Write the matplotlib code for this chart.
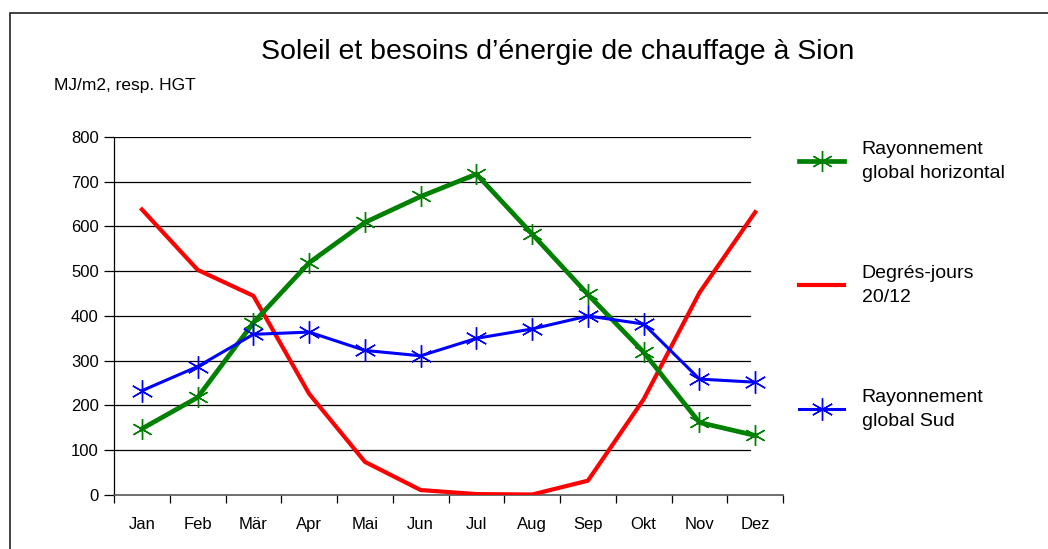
import matplotlib.pyplot as plt
from matplotlib.lines import Line2D
from matplotlib.patches import Rectangle

months = ["Jan", "Feb", "Mär", "Apr", "Mai", "Jun", "Jul", "Aug", "Sep", "Okt", "Nov", "Dez"]
horizontal = [148, 218, 385, 519, 609, 667, 717, 583, 448, 319, 162, 133]
degres_jours = [638, 503, 445, 226, 74, 11, 2, 1, 32, 214, 452, 632]
sud = [233, 287, 359, 364, 323, 311, 350, 371, 400, 382, 259, 252]
labels = ["Rayonnement\nglobal horizontal", "Degrés-jours\n20/12", "Rayonnement\nglobal Sud"]

plt.rcParams['font.family'] = ['Liberation Sans', 'DejaVu Sans']

fig = plt.figure(figsize=(10.48, 5.49), dpi=100)
ax = fig.add_axes([0.1088, 0.0984, 0.6384, 0.6521])

star = (6, 2, 0)
x = list(range(len(months)))
ax.plot(x, horizontal, color="#008000", lw=3.4, marker=star, ms=15, mew=1.0, zorder=4)
ax.plot(x, degres_jours, color="#ff0000", lw=3.0, zorder=3)
ax.plot(x, sud, color="#0000ff", lw=2.2, marker=star, ms=16, mew=1.0, zorder=5)

ax.set_xlim(-0.5, 11.5)
ax.set_ylim(0, 800)
ax.set_yticks(range(0, 801, 100))
ax.set_xticks(x)
ax.set_xticklabels(months)
ax.set_xticks([i - 0.5 for i in range(13)], minor=True)
ax.tick_params(axis="x", which="major", length=0, pad=16, labelsize=12)
ax.tick_params(axis="x", which="minor", length=6, width=0.9, direction="out")
ax.tick_params(axis="y", length=7, width=0.9, labelsize=12, pad=4)

for v in range(100, 801, 100):
    ax.axhline(v, xmin=0, xmax=0.951, color="black", lw=0.9, zorder=1)

for s in ["top", "right"]:
    ax.spines[s].set_visible(False)
ax.spines["left"].set_linewidth(0.9)
ax.spines["bottom"].set_linewidth(1.2)
ax.spines["bottom"].set_color("#555555")

fig.text(0.532, 0.905, "Soleil et besoins d’énergie de chauffage à Sion",
         ha="center", va="center", fontsize=20.5)
fig.text(0.052, 0.845, "MJ/m2, resp. HGT", ha="left", va="center", fontsize=12.5)

handles = [
    Line2D([], [], color="#008000", lw=3.4, marker=star, ms=15, mew=1.0),
    Line2D([], [], color="#ff0000", lw=3.0),
    Line2D([], [], color="#0000ff", lw=2.2, marker=star, ms=16, mew=1.0),
]
leg = fig.legend(handles, labels, loc="upper left", bbox_to_anchor=(0.746, 0.775),
                 frameon=False, fontsize=14, handlelength=2.3, handletextpad=0.9,
                 labelspacing=4.3)
for t in leg.get_texts():
    t.set_linespacing(1.5)

fig.patches.append(Rectangle((10 / 1048, -0.05), 1.2, 1 - 13 / 549 + 0.05,
                             transform=fig.transFigure, fill=False,
                             edgecolor="#222222", lw=1.2))

fig.savefig("out.png", dpi=100)
